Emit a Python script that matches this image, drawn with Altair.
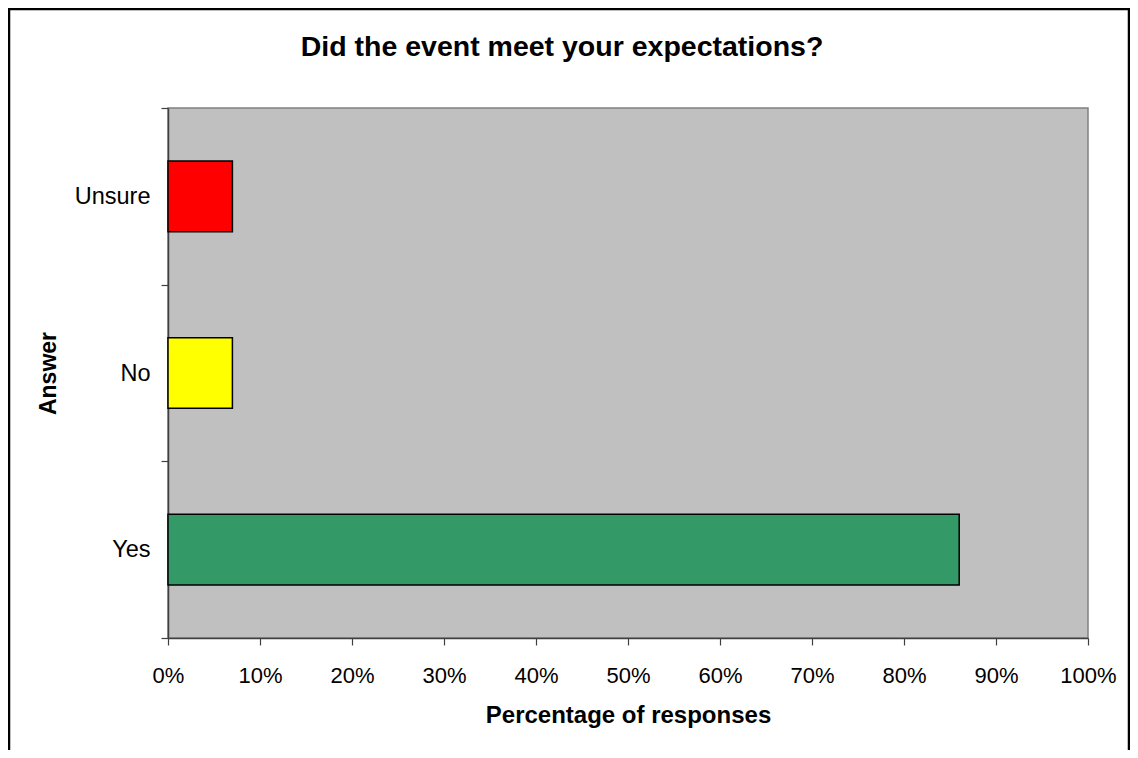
import altair as alt
import pandas as pd

answers = ["Unsure", "No", "Yes"]
shares = [0.07, 0.07, 0.86]
colors = ["#FF0000", "#FFFF00", "#339966"]
x_ticks = [0, 0.1, 0.2, 0.3, 0.4, 0.5, 0.6, 0.7, 0.8, 0.9, 1.0]

df = pd.DataFrame({"Answer": answers, "Share": shares})

FONT = "Liberation Sans"

bars = alt.Chart(df).mark_bar(
    height=alt.RelativeBandSize(0.4), stroke="black", strokeWidth=1.5
).encode(
    x=alt.X("Share:Q",
            scale=alt.Scale(domain=[0, 1], nice=False, zero=True),
            axis=alt.Axis(values=x_ticks, format=".0%", title="Percentage of responses",
                          labelFontSize=22, labelFont=FONT, labelColor="black",
                          labelBaseline="alphabetic", labelPadding=37, tickSize=7,
                          tickColor="#404040", domainColor="#404040", domainWidth=1.5,
                          tickWidth=1.2, grid=False, labelFlush=False,
                          titleFont=FONT, titleFontSize=24, titleFontWeight="bold",
                          titleColor="black", titleBaseline="alphabetic",
                          titleX=460, titleY=84, titleAnchor="middle")),
    y=alt.Y("Answer:N", sort=answers,
            scale=alt.Scale(paddingInner=0, paddingOuter=0),
            axis=alt.Axis(title="Answer", labelFontSize=23.5, labelFont=FONT,
                          labelColor="black", labelPadding=11, tickSize=7,
                          tickBand="extent", tickColor="#404040",
                          domainColor="#404040", domainWidth=1.5, tickWidth=1.2,
                          grid=False,
                          titleFont=FONT, titleFontSize=23, titleFontWeight="bold",
                          titleColor="black", titleAngle=270,
                          titleBaseline="alphabetic", titleX=-113, titleY=265,
                          titleAnchor="middle")),
    color=alt.Color("Answer:N", scale=alt.Scale(domain=answers, range=colors), legend=None),
)

border = alt.Chart(pd.DataFrame({"a": [0]})).mark_rect(
    fill=None, stroke="black", strokeWidth=2.5, clip=False
).encode(
    x=alt.value(-159), x2=alt.value(961), y=alt.value(-99), y2=alt.value(660)
)

chart = alt.layer(border, bars).properties(
    width=920,
    height=530,
    autosize=alt.AutoSizeParams(type="none"),
    padding={"left": 160, "top": 100, "right": 42, "bottom": 112},
    title=alt.TitleParams("Did the event meet your expectations?", font=FONT,
                          fontSize=28.5, fontWeight="bold", color="black",
                          anchor="middle", frame="group", dx=-66,
                          baseline="alphabetic", offset=-77),
).configure(
    background="white"
).configure_view(
    fill="#C0C0C0", stroke="#808080", strokeWidth=1.5
)

chart.save("out.html", embed_options={"renderer": "svg", "actions": False})
